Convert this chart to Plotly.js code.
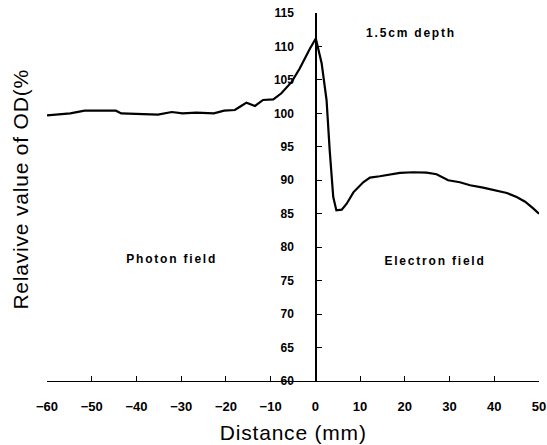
<!DOCTYPE html>
<html>
<head>
<meta charset="utf-8">
<script src="https://cdn.plot.ly/plotly-3.0.1.min.js"></script>
<style>
html,body{margin:0;padding:0;background:#fff;}
#chart{width:547px;height:445px;}
</style>
</head>
<body>
<div id="chart"></div>
<script>
// Distance (mm) and relative OD (%)
var distance = [-60,-54.8,-51.6,-44.6,-43.4,-39.1,-35.2,-32.1,-29.7,-26.6,-22.7,-20.4,-18,-16.6,-15.4,-13.5,-11.7,-9.4,-7.6,-5.3,-3.5,-1.2,0.1,1.4,2.5,3.2,3.6,4.0,4.7,5.9,7.0,8.5,10.7,12.2,14.4,16.7,18.9,21.9,24.9,27.1,29.7,32.3,34.6,37.5,39.8,42.8,45.0,46.9,48.7,50];
var odValue = [99.7,100.0,100.4,100.4,100.0,99.9,99.8,100.2,100.0,100.1,100.0,100.4,100.5,101.1,101.6,101.1,102.0,102.1,103.0,104.7,106.7,109.7,111.2,107.5,102.0,94.5,91.0,87.5,85.5,85.6,86.5,88.2,89.7,90.4,90.6,90.8,91.1,91.2,91.15,90.9,90.0,89.7,89.25,88.9,88.6,88.1,87.5,86.8,85.8,85.0];

var xTicks = [-60,-50,-40,-30,-20,-10,0,10,20,30,40,50];
var yTicks = [60,65,70,75,80,85,90,95,100,105,110,115];

var labelTexts = ["Photon field", "Electron field", "1.5cm depth"];
var labelX = [-32.2, 26.7, 21.4];
var labelY = [78.3, 78.0, 112.0];

var FONT = "Liberation Sans, Arial, Helvetica, sans-serif";
var yPos = 60 / 110;

var trace = {
  x: distance, y: odValue, type: 'scatter', mode: 'lines',
  line: {color: '#000', width: 2.2}, hoverinfo: 'skip'
};
// empty trace only so the label-carrying overlay axis is drawn
var labelAxisTrace = {
  x: [], y: [], type: 'scatter', mode: 'lines', yaxis: 'y2', hoverinfo: 'skip'
};

var annotations = [];
for (var i = 0; i < labelTexts.length; i++) {
  annotations.push({
    x: labelX[i], y: labelY[i], xref: 'x', yref: 'y', text: labelTexts[i],
    showarrow: false, xanchor: 'center', yanchor: 'middle',
    font: {family: FONT, size: 12, color: '#000', weight: 'bold'}
  });
}
annotations.push({
  x: 0.5, y: -0.141, xref: 'paper', yref: 'paper', text: 'Distance (mm)',
  showarrow: false, xanchor: 'center', yanchor: 'middle',
  font: {family: FONT, size: 21, color: '#000'}
});
annotations.push({
  x: -0.053, y: 0.522, xref: 'paper', yref: 'paper', text: 'Relavive value of OD(%',
  showarrow: false, xanchor: 'center', yanchor: 'middle', textangle: -90,
  font: {family: FONT, size: 21, color: '#000'}
});

var layout = {
  width: 547, height: 445,
  margin: {l: 47, r: 8, t: 13, b: 64},
  paper_bgcolor: '#fff', plot_bgcolor: '#fff',
  showlegend: false,
  font: {family: FONT, color: '#000'},
  xaxis: {
    range: [-60, 50], tickmode: 'array', tickvals: xTicks,
    ticks: 'inside', ticklen: 5, tickwidth: 1, tickcolor: '#000',
    showline: true, linecolor: '#000', linewidth: 1,
    showgrid: false, zeroline: false, anchor: 'y',
    ticklabelstandoff: 13,
    tickfont: {family: FONT, size: 13, color: '#000', weight: 'bold'}
  },
  yaxis: {
    range: [60, 115], tickmode: 'array', tickvals: yTicks,
    ticks: 'inside', ticklen: 5, tickwidth: 1, tickcolor: '#000',
    showline: true, linecolor: '#000', linewidth: 1.5,
    showgrid: false, zeroline: false,
    anchor: 'free', position: yPos, side: 'left',
    showticklabels: false
  },
  yaxis2: {
    overlaying: 'y', range: [60, 115], tickmode: 'array', tickvals: yTicks,
    ticks: 'outside', ticklen: 19, tickcolor: 'rgba(0,0,0,0)',
    showline: false, showgrid: false, zeroline: false,
    anchor: 'free', position: yPos, side: 'left',
    tickfont: {family: FONT, size: 12, color: '#000', weight: 'bold'}
  },
  annotations: annotations
};

Plotly.newPlot('chart', [trace, labelAxisTrace], layout, {displayModeBar: false, staticPlot: true}).then(function () {
  var txt = document.querySelectorAll('.annotation-text');
  for (var k = 0; k < txt.length; k++) {
    txt[k].style.letterSpacing = (k < 3) ? '1.8px' : '0.8px';
  }
});
</script>
</body>
</html>
